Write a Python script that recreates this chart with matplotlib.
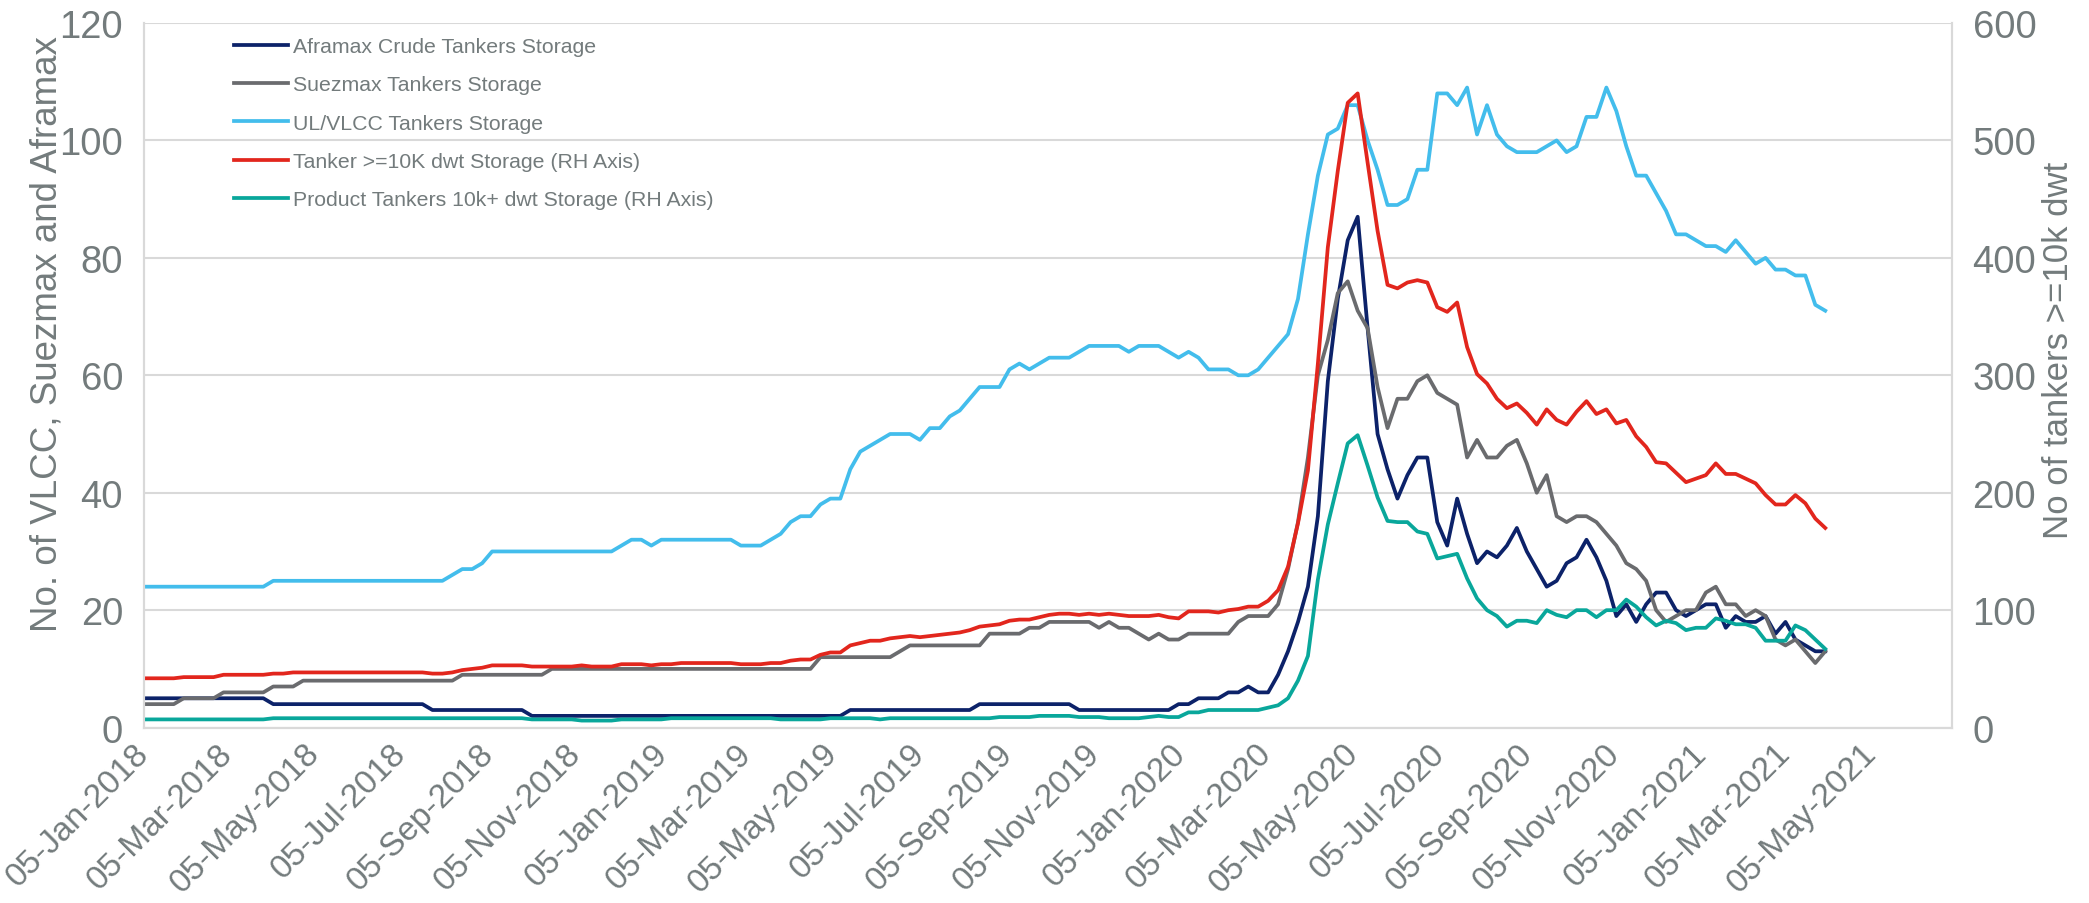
import numpy as np
import pandas as pd
import matplotlib
matplotlib.use("Agg")
import matplotlib.pyplot as plt

# =============================================================================
# 1. DATA (weekly)
# =============================================================================
dates = pd.date_range("2018-01-05", periods=170, freq="7D")

aframax = [
    5, 5, 5, 5, 5, 5, 5, 5, 5, 5,
    5, 5, 5, 4, 4, 4, 4, 4, 4, 4,
    4, 4, 4, 4, 4, 4, 4, 4, 4, 3,
    3, 3, 3, 3, 3, 3, 3, 3, 3, 2,
    2, 2, 2, 2, 2, 2, 2, 2, 2, 2,
    2, 2, 2, 2, 2, 2, 2, 2, 2, 2,
    2, 2, 2, 2, 2, 2, 2, 2, 2, 2,
    2, 3, 3, 3, 3, 3, 3, 3, 3, 3,
    3, 3, 3, 3, 4, 4, 4, 4, 4, 4,
    4, 4, 4, 4, 3, 3, 3, 3, 3, 3,
    3, 3, 3, 3, 4, 4, 5, 5, 5, 6,
    6, 7, 6, 6, 9, 13, 18, 24, 36, 59,
    73, 83, 87, 68, 50, 44, 39, 43, 46, 46,
    35, 31, 39, 33, 28, 30, 29, 31, 34, 30,
    27, 24, 25, 28, 29, 32, 29, 25, 19, 21,
    18, 21, 23, 23, 20, 19, 20, 21, 21, 17,
    19, 18, 18, 19, 16, 18, 15, 14, 13, 13,
]

suezmax = [
    4, 4, 4, 4, 5, 5, 5, 5, 6, 6,
    6, 6, 6, 7, 7, 7, 8, 8, 8, 8,
    8, 8, 8, 8, 8, 8, 8, 8, 8, 8,
    8, 8, 9, 9, 9, 9, 9, 9, 9, 9,
    9, 10, 10, 10, 10, 10, 10, 10, 10, 10,
    10, 10, 10, 10, 10, 10, 10, 10, 10, 10,
    10, 10, 10, 10, 10, 10, 10, 10, 12, 12,
    12, 12, 12, 12, 12, 12, 13, 14, 14, 14,
    14, 14, 14, 14, 14, 16, 16, 16, 16, 17,
    17, 18, 18, 18, 18, 18, 17, 18, 17, 17,
    16, 15, 16, 15, 15, 16, 16, 16, 16, 16,
    18, 19, 19, 19, 21, 27, 35, 46, 60, 66,
    74, 76, 71, 68, 58, 51, 56, 56, 59, 60,
    57, 56, 55, 46, 49, 46, 46, 48, 49, 45,
    40, 43, 36, 35, 36, 36, 35, 33, 31, 28,
    27, 25, 20, 18, 19, 20, 20, 23, 24, 21,
    21, 19, 20, 19, 15, 14, 15, 13, 11, 13,
]

vlcc = [
    24, 24, 24, 24, 24, 24, 24, 24, 24, 24,
    24, 24, 24, 25, 25, 25, 25, 25, 25, 25,
    25, 25, 25, 25, 25, 25, 25, 25, 25, 25,
    25, 26, 27, 27, 28, 30, 30, 30, 30, 30,
    30, 30, 30, 30, 30, 30, 30, 30, 31, 32,
    32, 31, 32, 32, 32, 32, 32, 32, 32, 32,
    31, 31, 31, 32, 33, 35, 36, 36, 38, 39,
    39, 44, 47, 48, 49, 50, 50, 50, 49, 51,
    51, 53, 54, 56, 58, 58, 58, 61, 62, 61,
    62, 63, 63, 63, 64, 65, 65, 65, 65, 64,
    65, 65, 65, 64, 63, 64, 63, 61, 61, 61,
    60, 60, 61, 63, 65, 67, 73, 84, 94, 101,
    102, 106, 106, 100, 95, 89, 89, 90, 95, 95,
    108, 108, 106, 109, 101, 106, 101, 99, 98, 98,
    98, 99, 100, 98, 99, 104, 104, 109, 105, 99,
    94, 94, 91, 88, 84, 84, 83, 82, 82, 81,
    83, 81, 79, 80, 78, 78, 77, 77, 72, 71,
]

# right hand axis series
tanker_10k = [
    42, 42, 42, 42, 43, 43, 43, 43, 45, 45,
    45, 45, 45, 46, 46, 47, 47, 47, 47, 47,
    47, 47, 47, 47, 47, 47, 47, 47, 47, 46,
    46, 47, 49, 50, 51, 53, 53, 53, 53, 52,
    52, 52, 52, 52, 53, 52, 52, 52, 54, 54,
    54, 53, 54, 54, 55, 55, 55, 55, 55, 55,
    54, 54, 54, 55, 55, 57, 58, 58, 62, 64,
    64, 70, 72, 74, 74, 76, 77, 78, 77, 78,
    79, 80, 81, 83, 86, 87, 88, 91, 92, 92,
    94, 96, 97, 97, 96, 97, 96, 97, 96, 95,
    95, 95, 96, 94, 93, 99, 99, 99, 98, 100,
    101, 103, 103, 108, 117, 137, 174, 219, 310, 409,
    474, 532, 540, 481, 423, 377, 374, 379, 381, 379,
    358, 354, 362, 324, 301, 293, 280, 272, 276, 268,
    258, 271, 262, 258, 269, 278, 267, 271, 259, 262,
    248, 239, 226, 225, 217, 209, 212, 215, 225, 216,
    216, 212, 208, 198, 190, 190, 198, 191, 178, 170,
]

product_10k = [
    7, 7, 7, 7, 7, 7, 7, 7, 7, 7,
    7, 7, 7, 8, 8, 8, 8, 8, 8, 8,
    8, 8, 8, 8, 8, 8, 8, 8, 8, 8,
    8, 8, 8, 8, 8, 8, 8, 8, 8, 7,
    7, 7, 7, 7, 6, 6, 6, 6, 7, 7,
    7, 7, 7, 8, 8, 8, 8, 8, 8, 8,
    8, 8, 8, 8, 7, 7, 7, 7, 7, 8,
    8, 8, 8, 8, 7, 8, 8, 8, 8, 8,
    8, 8, 8, 8, 8, 8, 9, 9, 9, 9,
    10, 10, 10, 10, 9, 9, 9, 8, 8, 8,
    8, 9, 10, 9, 9, 13, 13, 15, 15, 15,
    15, 15, 15, 17, 19, 25, 40, 61, 126, 173,
    208, 242, 249, 223, 196, 176, 175, 175, 167, 165,
    144, 146, 148, 127, 110, 100, 95, 86, 91, 91,
    89, 100, 96, 94, 100, 100, 94, 100, 100, 109,
    103, 94, 87, 91, 89, 83, 85, 85, 93, 91,
    88, 88, 85, 74, 74, 74, 87, 83, 75, 67,
]

labels = [
    "Aframax Crude Tankers Storage",
    "Suezmax Tankers Storage",
    "UL/VLCC Tankers Storage",
    "Tanker >=10K dwt Storage (RH Axis)",
    "Product Tankers 10k+ dwt Storage (RH Axis)",
]
# every other month, on the 5th
tick_dates = pd.date_range("2018-01-01", "2021-05-01", freq="2MS") + pd.Timedelta(days=4)

# =============================================================================
# 2. STYLE
# =============================================================================
plt.rcParams["font.family"] = ["Liberation Sans", "DejaVu Sans"]
TEXT = "#737b7c"
GRID = "#d9d9d9"
colors = ["#0c2269", "#6a6b6e", "#43bdec", "#e2261d", "#09a79b"]
LW = 2.7

# =============================================================================
# 3. PLOT
# =============================================================================
fig = plt.figure(figsize=(20.89, 9.04), dpi=100)
ax = fig.add_axes([0.0689, 0.194, 0.8654, 0.7795])
ax2 = ax.twinx()

h1, = ax.plot(dates, aframax, color=colors[0], lw=LW)
h2, = ax.plot(dates, suezmax, color=colors[1], lw=LW)
h3, = ax.plot(dates, vlcc, color=colors[2], lw=LW)
h4, = ax2.plot(dates, tanker_10k, color=colors[3], lw=LW)
h5, = ax2.plot(dates, product_10k, color=colors[4], lw=LW)

ax.set_ylim(0, 120)
ax2.set_ylim(0, 600)
ax.set_yticks(np.arange(0, 121, 20))
ax2.set_yticks(np.arange(0, 601, 100))
ax.set_xlim(pd.Timestamp("2018-01-05"), pd.Timestamp("2021-06-30"))

ax.set_xticks(tick_dates)
ax.set_xticklabels([d.strftime("%d-%b-%Y") for d in tick_dates],
                   rotation=45, ha="right", va="center", rotation_mode="anchor")

ax.grid(axis="y", color=GRID, lw=1.5)
ax.set_axisbelow(True)
for a in (ax, ax2):
    a.spines["top"].set_visible(False)
    for s in ("left", "right", "bottom"):
        a.spines[s].set_color(GRID)
        a.spines[s].set_linewidth(1.5)

ax.tick_params(axis="y", length=0, pad=15, labelsize=27.5, labelcolor=TEXT)
ax2.tick_params(axis="y", length=0, pad=15, labelsize=27.5, labelcolor=TEXT)
ax.tick_params(axis="x", length=0, pad=15, labelsize=24, labelcolor=TEXT)

ax.set_ylabel("No. of VLCC, Suezmax and Aframax", fontsize=26.5, color=TEXT)
ax.yaxis.set_label_coords(-0.044, 0.56)
ax2.set_ylabel("No of tankers >=10k dwt", fontsize=25, color=TEXT)
ax2.yaxis.set_label_coords(1.05, 0.537)

ax2.legend([h1, h2, h3, h4, h5], labels, loc="upper left",
           bbox_to_anchor=(0.112, 0.958), bbox_transform=fig.transFigure,
           frameon=False, fontsize=15.3, labelcolor=TEXT,
           handlelength=2.54, handletextpad=0.24, labelspacing=0.91,
           borderpad=0, borderaxespad=0)

fig.savefig("out.png", dpi=100)
